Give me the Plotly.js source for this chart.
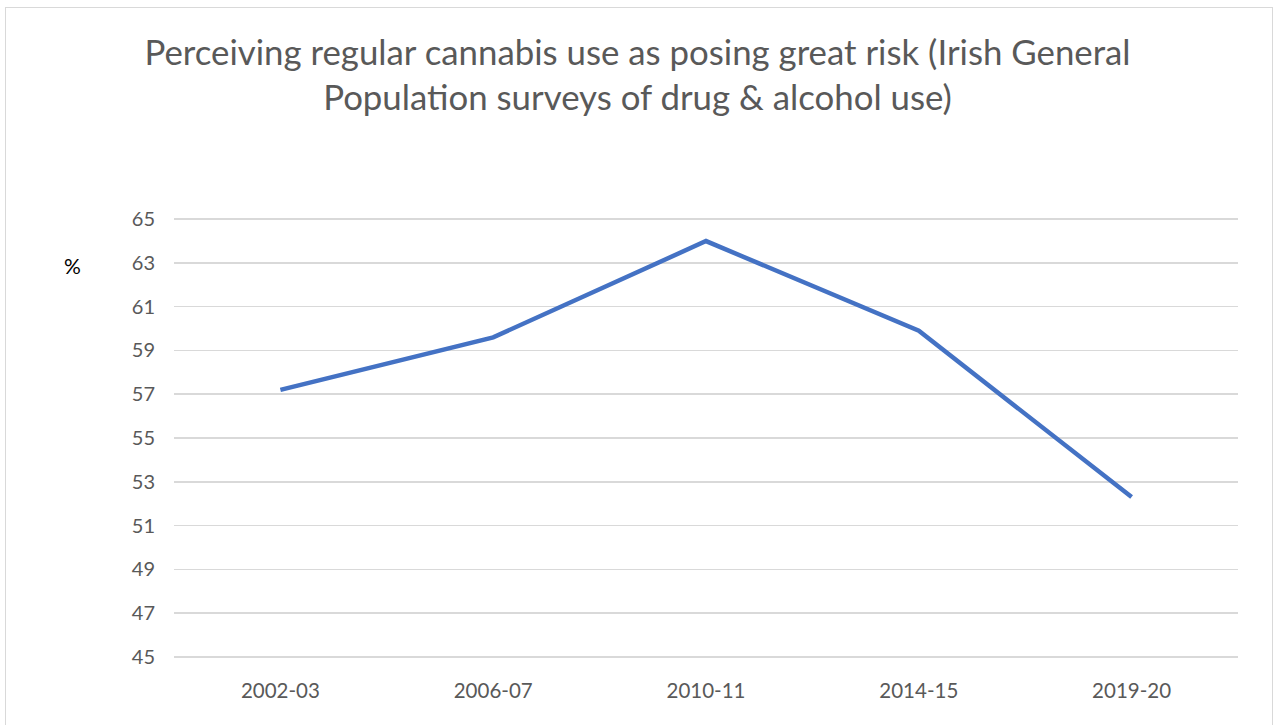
<!DOCTYPE html>
<html>
<head>
<meta charset="utf-8">
<script src="https://cdn.plot.ly/plotly-3.0.1.min.js"></script>
<style>
body{margin:0;padding:0;background:#fff;}
#wrap{position:relative;width:1275px;height:725px;overflow:hidden;}
#frame{position:absolute;left:5px;top:7px;width:1268px;height:740px;border:1px solid #d9d9d9;box-sizing:border-box;pointer-events:none;}
#chart{position:absolute;left:0;top:0;width:1275px;height:725px;}
</style>
</head>
<body>
<div id="wrap"><div id="chart"></div><div id="frame"></div></div>
<script>
var periods = ["2002-03", "2006-07", "2010-11", "2014-15", "2019-20"];
var riskPct = [57.2, 59.6, 64.0, 59.9, 52.3];
var yTicks = [45, 47, 49, 51, 53, 55, 57, 59, 61, 63, 65];
var titleText = "Perceiving regular cannabis use as posing great risk (Irish General<br>Population surveys of drug &amp; alcohol use)";
var unitLabel = "%";

var font = "Lato, 'Open Sans', sans-serif";
var pxPerUnit = 438 / 20;
var pad = 0.1;
var padPx = pad * pxPerUnit;
var trace = {
  x: periods, y: riskPct, type: "scatter", mode: "lines",
  line: {color: "#4472C4", width: 4.5}, hoverinfo: "x+y"
};
var layout = {
  width: 1275, height: 725,
  paper_bgcolor: "#fff", plot_bgcolor: "#fff",
  margin: {l: 174, r: 37, t: 219 - padPx, b: 68 - padPx},
  showlegend: false,
  title: {
    text: titleText,
    font: {family: font, size: 34.8, color: "#595959"},
    x: 0.5, xref: "container", y: 1 - 65/725, yref: "container", yanchor: "middle"
  },
  xaxis: {
    type: "category", range: [-0.5, 4.5],
    showgrid: false, zeroline: false, showline: false, ticks: "",
    tickfont: {family: font, size: 20.5, color: "#595959"},
    ticklabelstandoff: 17
  },
  yaxis: {
    range: [45 - pad, 65 + pad], tickvals: yTicks, ticktext: yTicks.map(String),
    showgrid: true, gridcolor: "#d9d9d9", gridwidth: 1.5,
    zeroline: false, showline: false, ticks: "",
    tickfont: {family: font, size: 20, color: "#595959"},
    ticklabelstandoff: 18
  },
  annotations: [{
    text: unitLabel, xref: "paper", yref: "paper",
    x: (72 - 174) / 1064, y: (657 + padPx - 265) / (438 + 2 * padPx),
    xanchor: "center", yanchor: "middle", showarrow: false,
    font: {family: font, size: 21, color: "#000"}
  }]
};
Plotly.newPlot("chart", [trace], layout, {displayModeBar: false, staticPlot: true});
</script>
</body>
</html>
